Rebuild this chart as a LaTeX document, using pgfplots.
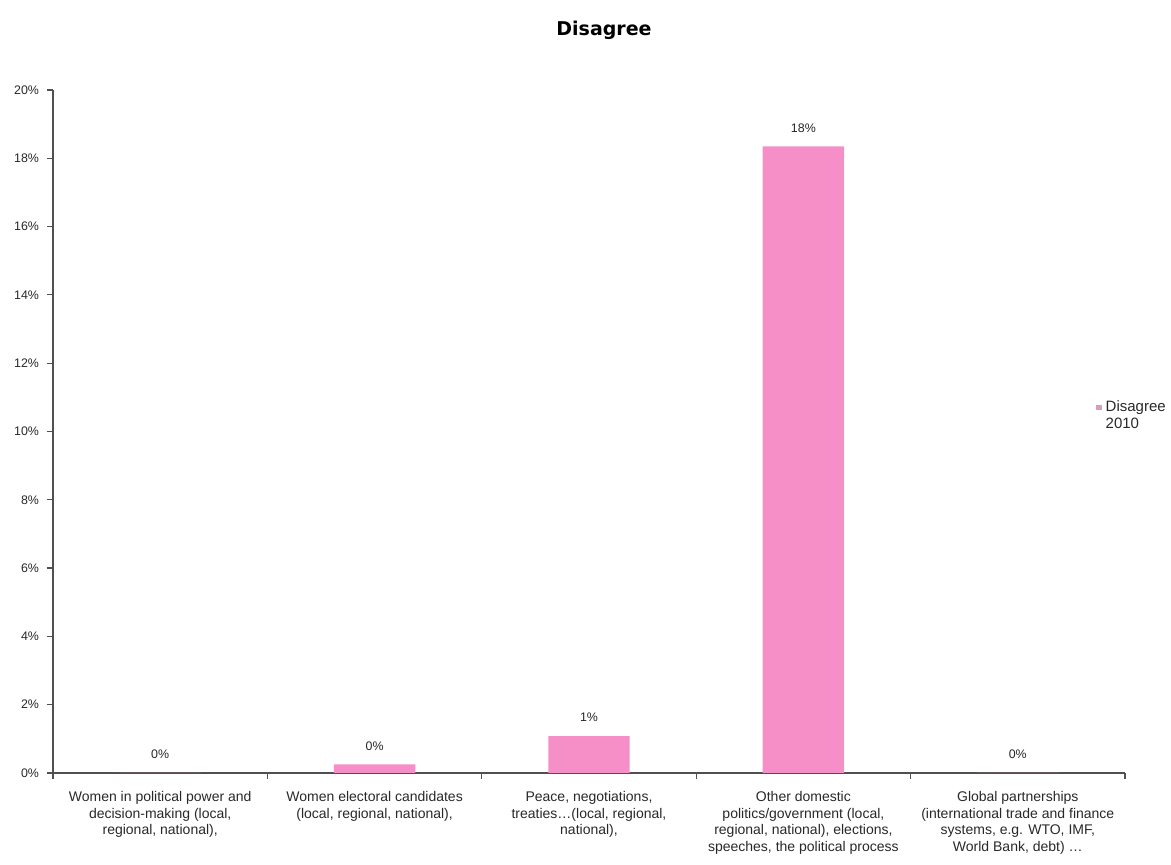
\documentclass[border=0pt]{standalone}
\usepackage{pgfplots}
\pgfplotsset{compat=1.18}
\usepackage{fontspec}
\setmainfont{Liberation Sans}
\newfontfamily\titlefont{DejaVu Sans}
\definecolor{barpink}{RGB}{246,143,200}
\definecolor{axisgray}{RGB}{80,80,80}
\definecolor{labelgray}{RGB}{40,40,40}

\begin{document}
\begin{tikzpicture}
\useasboundingbox (0,0) rectangle (585.5pt,432.5pt);
\begin{axis}[
  at={(26.5pt,46pt)}, anchor=south west,
  scale only axis, width=536pt, height=341.5pt,
  /pgf/number format/assume math mode=true,
  xmin=-0.5, xmax=4.5, ymin=0, ymax=20,
  axis x line*=bottom, axis y line*=left,
  axis line style={axisgray, line width=0.8pt},
  tick align=outside, major tick length=3pt, minor tick length=3pt,
  tick style={axisgray, line width=0.6pt},
  ytick={0,2,4,6,8,10,12,14,16,18,20},
  yticklabel={\pgfmathprintnumber{\tick}\%},
  yticklabel style={font=\fontsize{6.2}{7}\selectfont, text=labelgray, xshift=-0.5pt},
  xtick={0,1,2,3,4},
  minor xtick={-0.5,0.5,1.5,2.5,3.5,4.5},
  major x tick style={draw=none},
  xticklabels={
    {Women in political power and\\decision-making (local,\\regional, national),},
    {Women electoral candidates\\(local, regional, national),},
    {Peace, negotiations,\\treaties\ldots(local, regional,\\national),},
    {Other domestic\\politics/government (local,\\regional, national), elections,\\speeches, the political process},
    {Global partnerships\\(international trade and finance\\systems, e.g. WTO, IMF,\\World Bank, debt) \ldots}
  },
  xticklabel style={font=\fontsize{7}{8.25}\selectfont, text=labelgray, align=center, anchor=north, yshift=-2.8pt},
  title={\titlefont\bfseries Disagree},
  title style={at={(0.5,1)}, anchor=center, yshift=24pt, xshift=7.5pt, font=\fontsize{9.5}{11}\selectfont},
  ybar, bar width=0.38,
  nodes near coords={\pgfmathprintnumber[fixed,precision=0]{\pgfplotspointmeta}\%},
  every node near coord/.append style={font=\fontsize{6.2}{7}\selectfont, text=labelgray, yshift=3.5pt},
  legend style={draw=none, fill=none, at={(0.973,0.522)}, anchor=west,
    font=\fontsize{7.5}{8.5}\selectfont, text=labelgray, inner sep=0pt,
    cells={anchor=west, align=left}},
  legend image code/.code={\fill[barpink!60!gray!80] (0pt,3.0pt) rectangle (2.6pt,5.6pt);},
]
\addplot[fill=barpink, draw=none] coordinates {
  (0,0) (1,0.25) (2,1.08) (3,18.35) (4,0)
};
\addlegendentry{Disagree\\2010}
\end{axis}
\end{tikzpicture}
\end{document}
